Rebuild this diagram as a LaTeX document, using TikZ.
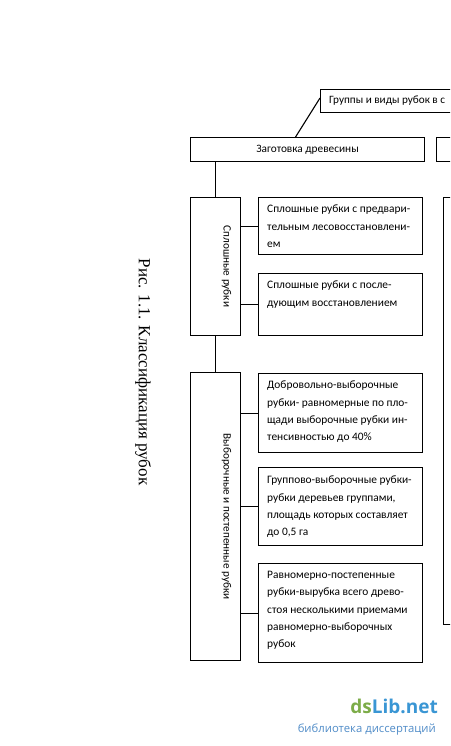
\documentclass[tikz,border=0pt]{standalone}
\usepackage{fontspec}
\setmainfont{Carlito}
\newfontfamily\capfont{Liberation Serif}
\newfontfamily\wmfont{Open Sans}
\usetikzlibrary{calc}
\definecolor{wmgreen}{RGB}{124,172,72}
\definecolor{wmblue}{RGB}{58,150,212}
\definecolor{wmsub}{RGB}{80,140,200}
\begin{document}
\begin{tikzpicture}[x=1pt,y=-1pt,
  box/.style={draw, line width=1.1pt, rectangle, inner sep=0pt, anchor=north west},
  txt/.style={anchor=north west, inner sep=0pt, align=left, font=\fontsize{11.4}{17.3}\selectfont},
  vtxt/.style={inner sep=0pt, rotate=-90, font=\fontsize{11.2}{13}\selectfont},
  conn/.style={line width=1.1pt}]
\useasboundingbox (0,0) rectangle (450,746);
\fill[white] (0,0) rectangle (450,746);
\clip (0,0) rectangle (450,746);
% top partial box
\node[box, minimum width=200pt, minimum height=23pt] (top) at (320,89) {};
\node[anchor=west, inner sep=0pt, font=\fontsize{11.2}{13}\selectfont] (toptxt) at ($(top.west)+(9,0)$) {Группы и виды рубок в с};
% main level
\node[box, minimum width=234pt, minimum height=24pt] (z) at (190,137) {};
\node[inner sep=0pt, font=\fontsize{11.3}{13}\selectfont] (ztxt) at (z.center) {Заготовка древесины};
\node[box, minimum width=100pt, minimum height=24pt] (z2) at (436,137) {};
\node[box, minimum width=100pt, minimum height=427pt] (tall) at (443,197) {};
% vertical boxes
\node[box, minimum width=50pt, minimum height=138pt] (sp) at (190,197) {};
\node[vtxt] (sptxt) at ($(sp.center)+(11,0)$) {Сплошные рубки};
\node[box, minimum width=50pt, minimum height=288pt] (vy) at (190,372) {};
\node[vtxt] (vytxt) at ($(vy.center)+(11,0)$) {Выборочные и постепенные рубки};
% child boxes
\node[box, minimum width=164pt, minimum height=57pt] (b1) at (258,197) {};
\node[txt] (b1t) at ($(b1.north west)+(9,8)$) {Сплошные рубки с предвари-\\тельным лесовосстановлени-\\ем};
\node[box, minimum width=164pt, minimum height=62pt] (b2) at (258,273) {};
\node[txt] (b2t) at ($(b2.north west)+(9,8)$) {Сплошные рубки с после-\\дующим восстановлением};
\node[box, minimum width=164pt, minimum height=79pt] (b3) at (258,373) {};
\node[txt] (b3t) at ($(b3.north west)+(9,8)$) {Добровольно-выборочные\\рубки- равномерные по пло-\\щади выборочные рубки ин-\\тенсивностью до 40\%};
\node[box, minimum width=164pt, minimum height=78pt] (b4) at (258,467) {};
\node[txt] (b4t) at ($(b4.north west)+(9,9)$) {Группово-выборочные рубки-\\рубки деревьев группами,\\площадь которых составляет\\до 0,5 га};
\node[box, minimum width=164pt, minimum height=99pt] (b5) at (258,563) {};
\node[txt] (b5t) at ($(b5.north west)+(9,8)$) {Равномерно-постепенные\\рубки-вырубка всего древо-\\стоя несколькими приемами\\равномерно-выборочных\\рубок};
% connectors
\draw[conn] ([xshift=-12pt]z.north) -- ([yshift=-9pt]top.north west);
\draw[conn] (sp.north |- z.south) -- (sp.north);
\draw[conn] (sp.south) -- (vy.north);
\draw[conn] (sp.east |- b1.west) -- (b1.west);
\draw[conn] (sp.east |- b2.west) -- (b2.west);
\draw[conn] (vy.east |- b3.west) -- (b3.west);
\draw[conn] (vy.east |- b4.west) -- (b4.west);
\draw[conn] (vy.east |- b5.west) -- (b5.west);
% caption
\node[inner sep=0pt, rotate=-90, font=\capfont\fontsize{17}{20}\selectfont] (cap) at (143,372) {Рис. 1.1. Классификация рубок};
% watermark
\node[anchor=base east, inner sep=0pt, font=\wmfont\bfseries\fontsize{19}{22}\selectfont] (wm) at (438,713) {\textcolor{wmgreen}{ds}\textcolor{wmblue}{Lib.net}};
\node[anchor=base east, inner sep=0pt, font=\wmfont\fontsize{11.3}{13}\selectfont, text=wmsub] (wms) at (436,732) {библиотека диссертаций};
\end{tikzpicture}
\end{document}
